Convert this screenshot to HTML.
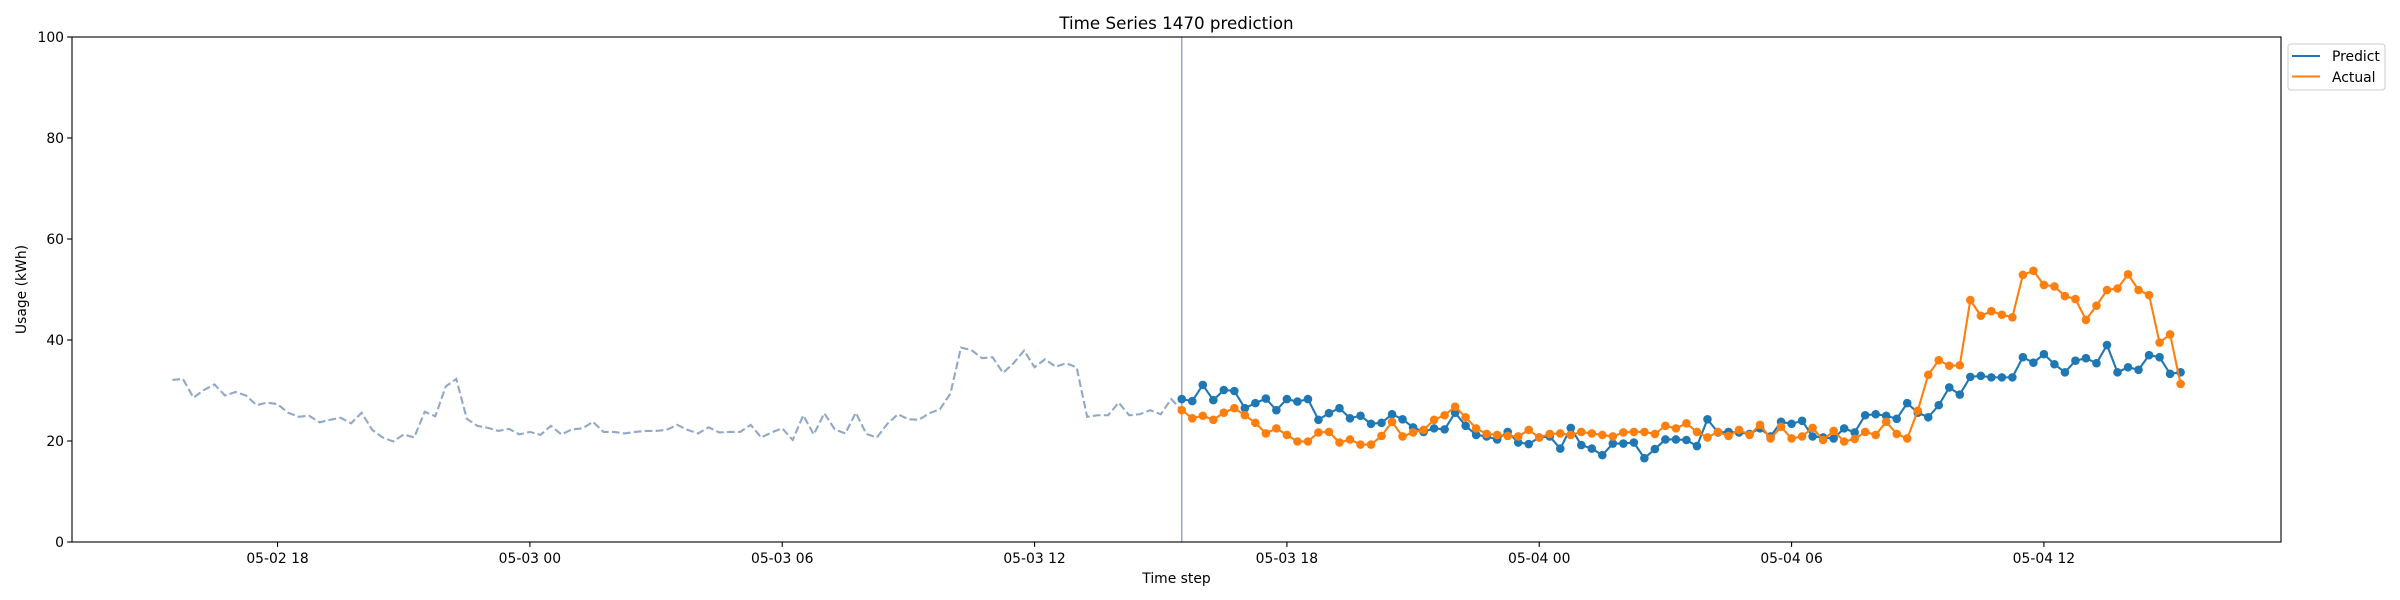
<!DOCTYPE html>
<html><head><meta charset="utf-8"><style>
html,body{margin:0;padding:0;background:#fff;}
svg{display:block;font-family:"DejaVu Sans","Liberation Sans",sans-serif;}
</style></head><body>
<svg id="chart" width="2400" height="600" viewBox="0 0 2400 600" xmlns="http://www.w3.org/2000/svg">
<rect x="0" y="0" width="2400" height="600" fill="#fff"/>
<text x="1176.5" y="29" font-size="16.7" text-anchor="middle" fill="#000">Time Series 1470 prediction</text>
<g id="plot"></g>
<rect x="72" y="37" width="2209" height="505" fill="none" stroke="#000" stroke-width="1.1"/>
<text x="1176.5" y="583" font-size="13.9" text-anchor="middle">Time step</text>
<text transform="translate(26,289.5) rotate(-90)" font-size="13.9" text-anchor="middle">Usage (kWh)</text>
<g>
<rect x="2288" y="44" width="97" height="46" rx="3" fill="#fff" stroke="#ccc" stroke-width="1"/>
<line x1="2292" y1="56" x2="2320" y2="56" stroke="#1f77b4" stroke-width="2.1"/>
<text x="2332" y="61" font-size="13.9">Predict</text>
<line x1="2292" y1="76.5" x2="2320" y2="76.5" stroke="#ff7f0e" stroke-width="2.1"/>
<text x="2332" y="82" font-size="13.9">Actual</text>
</g>
</svg>
<script>
const history = [32.1,32.3,28.6,30.1,31.2,29.0,29.7,29.0,27.1,27.6,27.3,25.6,24.8,25.0,23.7,24.2,24.6,23.5,25.6,22.2,20.7,19.9,21.3,20.7,25.8,24.9,30.8,32.3,24.4,23.0,22.6,22.0,
22.4,21.3,21.8,21.2,23.0,21.3,22.3,22.5,23.8,21.8,21.8,21.5,21.8,22.0,22.0,22.2,23.2,22.2,21.5,22.7,21.7,21.8,21.8,23.2,20.7,21.7,22.5,20.2,25.1,21.3,25.5,22.3,21.5,
25.6,21.4,20.7,23.4,25.3,24.3,24.2,25.5,26.3,29.4,38.5,38.0,36.4,36.6,33.5,35.4,37.9,34.6,36.2,34.7,35.4,34.6,24.8,25.1,25.1,27.6,25.1,25.3,26.1,25.3,28.3];
const predict = [28.3,27.9,31.1,28.1,30.1,29.9,26.5,27.5,28.4,26.1,28.3,27.8,28.3,24.2,25.5,26.5,24.5,25.0,23.4,23.6,25.3,24.3,22.7,21.8,22.5,22.3,25.6,23.0,21.2,20.9,20.3,21.8,
19.7,19.4,20.7,20.9,18.5,22.6,19.2,18.5,17.2,19.5,19.5,19.7,16.6,18.4,20.3,20.3,20.2,19.0,24.3,21.7,21.8,21.7,21.4,22.5,20.9,23.8,23.4,24.0,20.9,20.7,20.5,
22.5,21.7,25.1,25.3,25.0,24.4,27.5,25.6,24.7,27.1,30.6,29.2,32.7,32.9,32.6,32.6,32.6,36.6,35.5,37.2,35.2,33.6,35.9,36.4,35.4,39.0,33.6,34.6,34.1,37.0,36.6,33.3,33.6];
const actual = [26.1,24.5,25.0,24.2,25.6,26.5,25.1,23.6,21.5,22.5,21.2,19.9,19.9,21.7,21.8,19.7,20.3,19.3,19.3,21.0,23.8,20.9,21.7,22.2,24.2,25.1,26.8,24.7,22.5,21.4,21.2,21.0,
20.9,22.2,20.7,21.4,21.5,21.2,21.8,21.5,21.2,20.9,21.7,21.8,21.8,21.4,23.0,22.5,23.5,21.8,20.7,21.8,21.0,22.2,21.2,23.2,20.5,22.8,20.5,20.9,22.6,20.2,22.0,
19.9,20.4,21.8,21.2,23.8,21.4,20.5,26.0,33.1,36.0,34.9,35.0,47.9,44.8,45.7,45.0,44.5,52.9,53.7,50.9,50.6,48.7,48.1,44.0,46.8,49.9,50.2,53.0,49.9,48.9,39.5,41.1,31.3];
const yTicks = [0,20,40,60,80,100];
const xTickHours = [18,24,30,36,42,48,54,60];
const xTickLabels = ["05-02 18","05-03 00","05-03 06","05-03 12","05-03 18","05-04 00","05-04 06","05-04 12"];
const historyStartHour = 15.5;
const forecastStartHour = 39.5;
const stepHours = 0.25;

const NS = "http://www.w3.org/2000/svg";
const L = 72, R = 2281, T = 37, B = 542;
const xMin = 13.1125, xMax = 65.6375;
const xs = h => L + (h - xMin) / (xMax - xMin) * (R - L);
const ys = v => B - v / 100 * (B - T);
const svg = document.getElementById('chart');
const plot = document.getElementById('plot');
function mk(tag, attrs, parent) {
  const e = document.createElementNS(NS, tag);
  for (const k in attrs) e.setAttribute(k, attrs[k]);
  (parent || plot).appendChild(e);
  return e;
}
// y ticks
yTicks.forEach(v => {
  const t = mk('line', {x1: L - 4.9, x2: L, y1: ys(v), y2: ys(v), stroke: '#000', 'stroke-width': 1.1}, svg);
  
  
  const lb = mk('text', {x: L - 8, y: ys(v) + 5, 'font-size': 13.9, 'text-anchor': 'end'}, svg);
  lb.textContent = v;
  
  
});
// x ticks
xTickHours.forEach((h, i) => {
  const t = mk('line', {x1: xs(h), x2: xs(h), y1: B, y2: B + 4.9, stroke: '#000', 'stroke-width': 1.1}, svg);
  
  
  const lb = mk('text', {x: xs(h), y: B + 21, 'font-size': 13.9, 'text-anchor': 'middle'}, svg);
  lb.textContent = xTickLabels[i];
  
  
});
// history dashed
const hPts = history.map((v, i) => xs(historyStartHour + i * stepHours) + ',' + ys(v));
hPts.push(xs(forecastStartHour) + ',' + ys(actual[0]));
const hl = mk('polyline', {points: hPts.join(' '), fill: 'none', stroke: '#91a8c8', 'stroke-width': 2.1, 'stroke-dasharray': '7.7,3.3'});


// forecast start line
const vl = mk('line', {x1: xs(forecastStartHour), x2: xs(forecastStartHour), y1: T, y2: B, stroke: '#9aa8cc', 'stroke-width': 1.5});


function series(arr, color, name) {
  const pts = arr.map((v, i) => xs(forecastStartHour + i * stepHours) + ',' + ys(v)).join(' ');
  const pl = mk('polyline', {points: pts, fill: 'none', stroke: color, 'stroke-width': 2.1});
  
  
  arr.forEach((v, i) => {
    const c = mk('circle', {cx: xs(forecastStartHour + i * stepHours), cy: ys(v), r: 4.3, fill: color});
    
    
  });
}
series(predict, '#1f77b4', 'predict');
series(actual, '#ff7f0e', 'actual');
</script>
</body></html>
